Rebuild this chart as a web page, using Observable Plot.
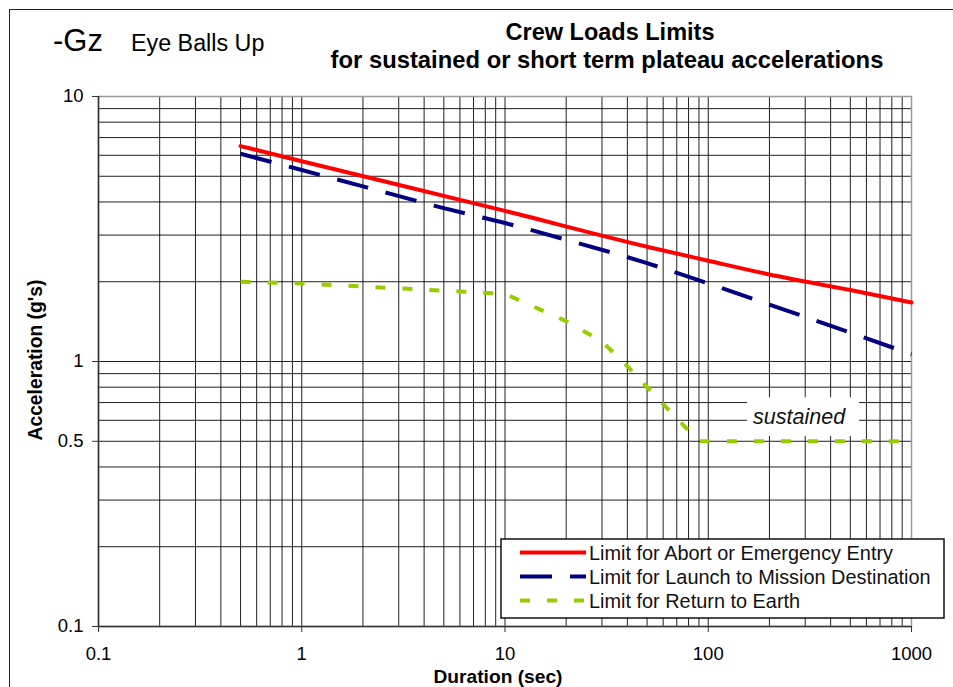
<!DOCTYPE html>
<html>
<head>
<meta charset="utf-8">
<script src="https://cdn.jsdelivr.net/npm/d3@7"></script>
<script src="https://cdn.jsdelivr.net/npm/@observablehq/plot@0.6"></script>
<style>
  html, body { margin: 0; padding: 0; background: #fff; }
  #wrap { position: relative; width: 953px; height: 687px; overflow: hidden; font-family: "Liberation Sans", Arial, sans-serif; }
  #chart { position: absolute; left: 0; top: 0; }
  #overlay { position: absolute; left: 0; top: 0; pointer-events: none; }
  #border { position: absolute; left: 9px; top: 9px; width: 960px; height: 700px; border-left: 1.5px solid #222; border-top: 1.5px solid #222; pointer-events: none; }
</style>
</head>
<body>
<div id="wrap">
  <div id="chart"></div>
  <div id="border"></div>
  <svg id="overlay" width="953" height="687" font-family="Liberation Sans, Arial, sans-serif">
    <text x="53" y="51" font-size="31">-Gz</text>
    <text x="131" y="51" font-size="23.3">Eye Balls Up</text>
    <text x="610" y="40" font-size="23.5" font-weight="bold" text-anchor="middle">Crew Loads Limits</text>
    <text x="607" y="68" font-size="23.8" font-weight="bold" text-anchor="middle">for sustained or short term plateau accelerations</text>
    <text x="498" y="683" font-size="19.2" font-weight="bold" text-anchor="middle">Duration (sec)</text>
    <text transform="translate(42,360) rotate(-90)" font-size="19.3" font-weight="bold" text-anchor="middle">Acceleration (g's)</text>
    <g id="legend"></g>
  </svg>
</div>
<script>
// ---- data ----
const abortDur   = [0.5, 1, 10, 50, 100, 200, 500, 1000];
const abortG     = [6.5, 5.7, 3.7, 2.71, 2.4, 2.13, 1.86, 1.67];

const launchDur  = [0.5, 1, 2, 5, 10, 20, 50, 100, 200, 500, 1000];
const launchG    = [6.08, 5.28, 4.58, 3.79, 3.33, 2.88, 2.35, 1.97, 1.64, 1.285, 1.065];

const returnDur  = [0.5, 1, 10, 20, 30, 40, 60, 90, 1000];
const returnG    = [2.0, 1.97, 1.8, 1.42, 1.19, 0.96, 0.69, 0.5, 0.5];

const seriesNames = [
  "Limit for Abort or Emergency Entry",
  "Limit for Launch to Mission Destination",
  "Limit for Return to Earth"
];
const seriesColors = ["#ff0000", "#000080", "#99cc00"];
const seriesDash = [null, "32 18", "10 17"];

// ticks & gridlines
const xTickValues = [0.1, 1, 10, 100, 1000];
const yTickValues = [0.1, 0.5, 1, 10];
const xGridValues = [0.2, 0.3, 0.4, 0.5, 0.6, 0.7, 0.8, 0.9,
                     1, 2, 3, 4, 5, 6, 7, 8, 9,
                     10, 20, 30, 40, 50, 60, 70, 80, 90,
                     100, 200, 300, 400, 500, 600, 700, 800, 900];
const yGridValues = [0.2, 0.3, 0.4, 0.5, 0.6, 0.7, 0.8, 0.9,
                     1, 2, 3, 4, 5, 6, 7, 8, 9];

// annotation
const noteText = ["sustained"];
const notePos = [{x: 280, y: 0.615}];
const noteBox = [{x1: 156, x2: 555, y1: 0.522, y2: 0.73}];

const toRows = (xs, ys) => xs.map((d, i) => ({dur: d, g: ys[i]}));
const abortRows = toRows(abortDur, abortG);
const launchRows = toRows(launchDur, launchG);
const returnRows = toRows(returnDur, returnG);

const font = "Liberation Sans, Arial, sans-serif";

const plot = Plot.plot({
  width: 953,
  height: 687,
  marginLeft: 98,
  marginRight: 42,
  marginTop: 96,
  marginBottom: 61,
  x: {type: "log", domain: [0.1, 1000]},
  y: {type: "log", domain: [0.1, 10]},
  style: {fontFamily: font, fontSize: "18px", background: "white", color: "black", overflow: "visible"},
  marks: [
    Plot.gridX(xGridValues, {stroke: "#000", strokeOpacity: 0.88, strokeWidth: 1}),
    Plot.gridY(yGridValues, {stroke: "#000", strokeOpacity: 0.88, strokeWidth: 1}),
    Plot.frame({stroke: "#999", strokeWidth: 1.5}),
    Plot.ruleX([0.1], {stroke: "#333", strokeWidth: 1.5}),
    Plot.ruleY([0.1], {stroke: "#333", strokeWidth: 1.5}),
    Plot.axisX(xTickValues, {anchor: "bottom", tickSize: 6, tickPadding: 14, tickFormat: d => String(d), label: null, fontSize: 18.5, stroke: "#333"}),
    Plot.axisY(yTickValues, {anchor: "left", tickSize: 6, tickPadding: 9, tickFormat: d => String(d), label: null, fontSize: 18.5, stroke: "#333"}),
    Plot.rect(noteBox, {x1: "x1", x2: "x2", y1: "y1", y2: "y2", fill: "white"}),
    Plot.text(notePos, {x: "x", y: "y", text: () => noteText[0], fontSize: 21.5, fontStyle: "italic", fill: "#111", fontFamily: font}),
    Plot.line(abortRows, {x: "dur", y: "g", stroke: seriesColors[0], strokeWidth: 4, curve: "monotone-x"}),
    Plot.line(launchRows, {x: "dur", y: "g", stroke: seriesColors[1], strokeWidth: 4, strokeDasharray: seriesDash[1], strokeLinecap: "butt", curve: "monotone-x"}),
    Plot.line(returnRows, {x: "dur", y: "g", stroke: seriesColors[2], strokeWidth: 4, strokeDasharray: seriesDash[2], strokeLinecap: "butt"})
  ]
});
document.getElementById("chart").appendChild(plot);

// legend (overlay)
const lg = d3.select("#legend");
lg.append("rect").attr("x", 501).attr("y", 539).attr("width", 443).attr("height", 79)
  .attr("fill", "white").attr("stroke", "#111").attr("stroke-width", 1.5);
seriesNames.forEach((name, i) => {
  const cy = 552.5 + i * 24;
  const ln = lg.append("line").attr("x1", 520).attr("x2", 586).attr("y1", cy).attr("y2", cy)
    .attr("stroke", seriesColors[i]).attr("stroke-width", 4);
  if (seriesDash[i]) ln.attr("stroke-dasharray", seriesDash[i]);
  lg.append("text").attr("x", 589).attr("y", cy + 7.5).attr("font-size", 19.9).attr("fill", "#111").text(name);
});
</script>
</body>
</html>
